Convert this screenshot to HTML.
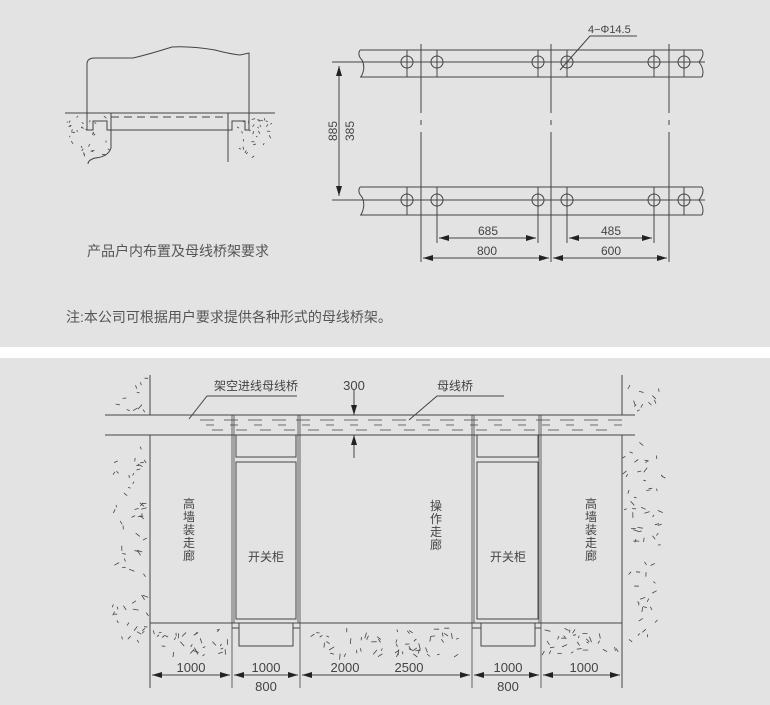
<!DOCTYPE html>
<html><head><meta charset="utf-8"><style>
html,body{margin:0;padding:0;background:#fff;}
svg{display:block;font-family:"Liberation Sans","Noto Sans CJK SC",sans-serif;}
</style></head><body>
<svg id="s" width="770" height="705" viewBox="0 0 770 705" xmlns="http://www.w3.org/2000/svg">
<defs>
<marker id="a" viewBox="0 0 10 6" refX="10" refY="3" markerWidth="10" markerHeight="6" orient="auto-start-reverse" markerUnits="userSpaceOnUse"><path d="M0,0L10,3L0,6z" fill="#222"/></marker>
</defs>
<rect x="0" y="0" width="770" height="347" fill="#e3e3e3"/>
<rect x="0" y="358" width="770" height="347" fill="#e3e3e3"/>
<g fill="none" stroke="#444" stroke-width="1">
<path d="M87,128 L87,64 Q87,58 95,58 L133,58 Q150,54 172,47 Q190,46 215,50 Q230,54 240,55 L249,53 L249,130"/>
<path d="M65,113 H275"/>
<path d="M87,121 V130 H93 V121 H107 V130 H111"/>
<path d="M111,113 V148 Q108,157 95,158 Q88,160 88,164"/>
<path d="M111,130 H228"/>
<path d="M111,117 H228" stroke-dasharray="8,5"/>
<path d="M228,113 V162"/>
<path d="M228,130 H232 V121 H245 V130 H249"/>
<path d="M360,50 H702 M360,77 H702 M360,187 H702 M360,215 H702"/>
<path d="M360,50 Q357,55 362,60 Q366,68 361,77 M702,50 Q705,55 699,62 Q705,70 702,77 M360,187 Q357,192 362,197 Q366,205 361,215 M702,187 Q705,192 699,200 Q705,208 702,215"/>
<path d="M332,62 H705 M332,200 H705"/>
<path d="M421,44 V113 M421,120 V125 M421,132 V262 M551,44 V113 M551,120 V125 M551,132 V262 M669,44 V113 M669,120 V125 M669,132 V262"/>
<circle cx="407" cy="62" r="6"/><circle cx="437" cy="62" r="6"/><circle cx="538" cy="62" r="6"/><circle cx="567" cy="62" r="6"/><circle cx="654" cy="62" r="6"/><circle cx="684" cy="62" r="6"/>
<circle cx="407" cy="200" r="6"/><circle cx="437" cy="200" r="6"/><circle cx="538" cy="200" r="6"/><circle cx="567" cy="200" r="6"/><circle cx="654" cy="200" r="6"/><circle cx="684" cy="200" r="6"/>
<path d="M407,50V77M437,50V77M538,50V77M567,50V77M654,50V77M684,50V77M407,187V215M654,187V215M684,187V215M538,187V215"/>
<path d="M437,187V243M567,187V243M538,215V243M654,215V243"/>
<path d="M339,66 V196" marker-start="url(#a)" marker-end="url(#a)"/>
<path d="M439,238 H536" marker-start="url(#a)" marker-end="url(#a)"/>
<path d="M569,238 H652" marker-start="url(#a)" marker-end="url(#a)"/>
<path d="M423,258 H549" marker-start="url(#a)" marker-end="url(#a)"/>
<path d="M553,258 H667" marker-start="url(#a)" marker-end="url(#a)"/>
<path d="M637,36 H590 L560,70"/>
<path d="M105,415 H622 M105,435 H622 M622,415 H635 M622,435 H635"/>
<path d="M150,375 V415 M150,435 V688 M622,375 V415 M622,435 V688"/>
<path d="M150,623 H622"/>
<path d="M232,415 V688 M234,415 V623 M300,415 V688 M298,415 V623 M472,415 V688 M474,415 V623 M541,415 V688 M539,415 V623" stroke-width="0.8"/>
<rect x="236" y="435" width="60" height="22"/><rect x="236" y="462" width="60" height="157"/>
<rect x="477" y="435" width="61" height="22"/><rect x="477" y="462" width="61" height="157"/>
<path d="M232,628 H239 M293,628 H300 M472,628 H481 M535,628 H541"/>
<rect x="239" y="623" width="54" height="23"/><rect x="481" y="623" width="54" height="23"/>
<path d="M152,675 H230" marker-start="url(#a)" marker-end="url(#a)"/>
<path d="M234,675 H298" marker-start="url(#a)" marker-end="url(#a)"/>
<path d="M302,675 H470" marker-start="url(#a)" marker-end="url(#a)"/>
<path d="M474,675 H539" marker-start="url(#a)" marker-end="url(#a)"/>
<path d="M543,675 H620" marker-start="url(#a)" marker-end="url(#a)"/>
<path d="M354,390 V415" marker-end="url(#a)"/>
<path d="M354,458 V435" marker-end="url(#a)"/>
<path d="M297,396 H207 L189,419 M504,396 H437 L409,420"/>
<g id="sp" stroke-width="0.8"></g>
</g>
<g fill="#444" font-size="12">
<text x="488" y="235" text-anchor="middle">685</text>
<text x="611" y="235" text-anchor="middle">485</text>
<text x="487" y="255" text-anchor="middle">800</text>
<text x="611" y="255" text-anchor="middle">600</text>
<text x="588" y="33" font-size="11">4−Φ14.5</text>
<text transform="translate(337,131) rotate(-90)" text-anchor="middle">885</text>
<text transform="translate(354,131) rotate(-90)" text-anchor="middle">385</text>
<text x="87" y="256" font-size="14" fill="#555">产品户内布置及母线桥架要求</text>
<text x="66" y="322" font-size="14" fill="#555">注:本公司可根据用户要求提供各种形式的母线桥架。</text>
<text x="214" y="390" font-size="12">架空进线母线桥</text>
<text x="354" y="390" font-size="13" text-anchor="middle">300</text>
<text x="437" y="390" font-size="12">母线桥</text>
<text x="266" y="561" text-anchor="middle">开关柜</text>
<text x="508" y="561" text-anchor="middle">开关柜</text>
<g font-size="12" text-anchor="middle">
<text x="189" y="508">高</text><text x="189" y="521">墙</text><text x="189" y="534">装</text><text x="189" y="547">走</text><text x="189" y="560">廊</text>
<text x="591" y="508">高</text><text x="591" y="521">墙</text><text x="591" y="534">装</text><text x="591" y="547">走</text><text x="591" y="560">廊</text>
<text x="436" y="510">操</text><text x="436" y="523">作</text><text x="436" y="536">走</text><text x="436" y="549">廊</text>
</g>
<g font-size="13" text-anchor="middle">
<text x="191" y="672">1000</text><text x="266" y="672">1000</text><text x="345" y="672">2000</text><text x="409" y="672">2500</text><text x="508" y="672">1000</text><text x="584" y="672">1000</text>
<text x="266" y="691">800</text><text x="508" y="691">800</text>
</g>
</g>
</svg>
<script>
(function(){
var s=1234567;function r(){s=(s*16807)%2147483647;return s/2147483647;}
var g=document.getElementById('sp'),ns='http://www.w3.org/2000/svg',d='';
function area(x0,y0,x1,y1,n,len){for(var i=0;i<n;i++){var x=x0+r()*(x1-x0),y=y0+r()*(y1-y0),a=r()*Math.PI,l=len*(0.5+r()*0.7);d+='M'+x.toFixed(1)+','+y.toFixed(1)+'l'+(Math.cos(a)*l).toFixed(1)+','+(Math.sin(a)*l).toFixed(1);}}
area(113,378,147,412,10,5);area(113,440,147,640,60,5);
area(625,378,660,412,10,5);area(625,440,662,640,60,5);
area(153,627,228,655,30,5);area(303,627,468,655,55,5);area(544,627,618,655,28,5);
for(var row=0;row<3;row++){for(var x=200+row*6;x<620;x+=24){var y=420+row*5;d+='M'+x+','+y+'h'+(8+((x+row)%3)*3);}}
area(68,116,108,156,30,3);area(232,116,272,158,30,3);
var p=document.createElementNS(ns,'path');p.setAttribute('d',d);g.appendChild(p);
})();
</script>
</body></html>
